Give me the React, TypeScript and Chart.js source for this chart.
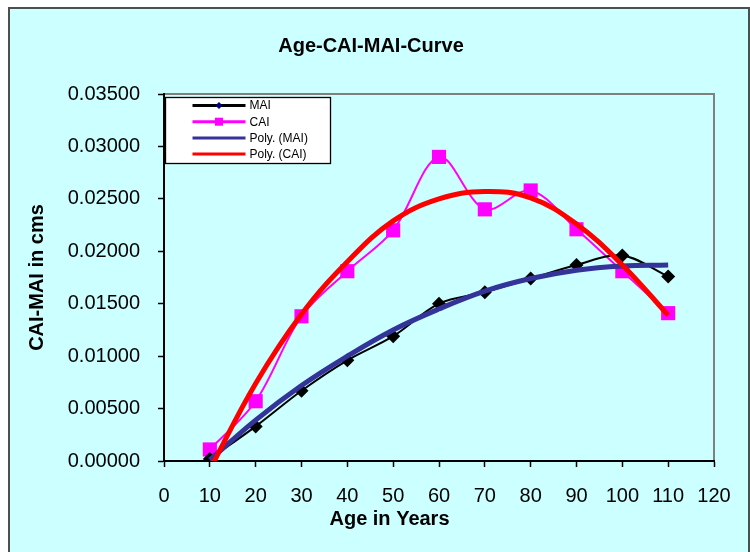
import React, { useEffect, useRef } from 'react';
import { Chart, registerables } from 'chart.js';

Chart.register(...registerables);

// ---- data ----
const YEARS = [10, 20, 30, 40, 50, 60, 70, 80, 90, 100, 110];
const MAI = [0.0002, 0.0033, 0.0067, 0.0096, 0.0119, 0.0150, 0.0161, 0.0174, 0.0187, 0.0196, 0.0176];
const CAI = [0.0011, 0.0057, 0.0138, 0.0181, 0.0220, 0.0290, 0.0240, 0.0258, 0.0221, 0.0181, 0.0141];
const POLY_MAI = [0.0001, 0.0039, 0.0072, 0.0100, 0.0125, 0.0145, 0.0162, 0.0174, 0.0182, 0.0186, 0.0187];
const POLY_CAI = [-0.0008, 0.0074, 0.0140, 0.0190, 0.0229, 0.0250, 0.0257, 0.0251, 0.0226, 0.0187, 0.0139];

const X_MIN = 0;
const X_MAX = 120;
const X_STEP = 10;
const Y_MIN = 0;
const Y_MAX = 0.035;
const Y_STEP = 0.005;
const Y_DECIMALS = 5;

const TITLE = 'Age-CAI-MAI-Curve';
const X_TITLE = 'Age in Years';
const Y_TITLE = 'CAI-MAI in cms';
const LEGEND_ORDER = ['MAI', 'CAI', 'Poly. (MAI)', 'Poly. (CAI)'];

const FONT = "'Liberation Sans', Arial, sans-serif";
const BG = '#CCFFFF';

const pts = (ys: number[]) => YEARS.map((x, i) => ({ x, y: ys[i] }));

const decorPlugin = {
  id: 'decor',
  beforeDraw(chart: any) {
    const { ctx, width, height, chartArea: ca } = chart;
    ctx.save();
    ctx.fillStyle = '#ffffff';
    ctx.fillRect(0, 0, width, height);
    ctx.fillStyle = BG;
    ctx.fillRect(9, 8, 740, height);
    ctx.strokeStyle = '#4a4f4f';
    ctx.lineWidth = 2;
    ctx.strokeRect(9, 8, 740, height + 20);
    // plot border (top/right)
    ctx.strokeStyle = '#808080';
    ctx.lineWidth = 2;
    ctx.beginPath();
    ctx.moveTo(ca.left, ca.top);
    ctx.lineTo(ca.right, ca.top);
    ctx.lineTo(ca.right, ca.bottom);
    ctx.stroke();
    // titles
    ctx.fillStyle = '#000';
    ctx.textAlign = 'center';
    ctx.textBaseline = 'alphabetic';
    ctx.font = `bold 20px ${FONT}`;
    ctx.fillText(TITLE, 371, 52);
    ctx.fillText(X_TITLE, ca.left + ca.width * 0.41, 525);
    ctx.save();
    ctx.translate(43, (ca.top + ca.bottom) / 2);
    ctx.rotate(-Math.PI / 2);
    ctx.fillText(Y_TITLE, 0, 0);
    ctx.restore();
    ctx.restore();
  },
  afterDraw(chart: any) {
    const { ctx, chartArea: ca } = chart;
    const bx = ca.left + 1.5;
    const by = ca.top + 3.5;
    const bw = 165;
    const bh = 66;
    ctx.save();
    ctx.fillStyle = '#ffffff';
    ctx.fillRect(bx, by, bw, bh);
    ctx.strokeStyle = '#000';
    ctx.lineWidth = 1.3;
    ctx.strokeRect(bx, by, bw, bh);
    ctx.font = `12px ${FONT}`;
    ctx.textAlign = 'left';
    ctx.textBaseline = 'middle';
    LEGEND_ORDER.forEach((label, i) => {
      const ds = chart.data.datasets.find((d: any) => d.label === label);
      if (!ds) return;
      const y = by + 8 + i * 16.2;
      const x0 = bx + 27;
      const x1 = bx + 80;
      ctx.strokeStyle = ds.borderColor;
      ctx.lineWidth = 3;
      ctx.beginPath();
      ctx.moveTo(x0, y);
      ctx.lineTo(x1, y);
      ctx.stroke();
      const mx = (x0 + x1) / 2;
      if (ds.pointStyle === 'rectRot' && ds.pointRadius > 0) {
        ctx.fillStyle = '#000080';
        ctx.beginPath();
        ctx.moveTo(mx, y - 3.5);
        ctx.lineTo(mx + 3.5, y);
        ctx.lineTo(mx, y + 3.5);
        ctx.lineTo(mx - 3.5, y);
        ctx.closePath();
        ctx.fill();
      } else if (ds.pointStyle === 'rect' && ds.pointRadius > 0) {
        ctx.fillStyle = ds.pointBackgroundColor;
        ctx.fillRect(mx - 4, y - 4, 8, 8);
      }
      ctx.fillStyle = '#000';
      ctx.fillText(label, x1 + 4, y + 0.5);
    });
    ctx.restore();
  },
};

export default function App() {
  const ref = useRef<HTMLCanvasElement | null>(null);

  useEffect(() => {
    if (!ref.current) return;
    const chart = new Chart(ref.current, {
      type: 'line',
      data: {
        datasets: [
          {
            label: 'Poly. (CAI)',
            data: pts(POLY_CAI),
            borderColor: '#FF0000',
            backgroundColor: '#FF0000',
            borderWidth: 5,
            pointRadius: 0,
            tension: 0.4,
            fill: false,
            clip: { left: 5, top: 5, right: 5, bottom: 0 },
          } as any,
          {
            label: 'Poly. (MAI)',
            data: pts(POLY_MAI),
            borderColor: '#333399',
            backgroundColor: '#333399',
            borderWidth: 5,
            pointRadius: 0,
            tension: 0.4,
            fill: false,
            clip: { left: 5, top: 5, right: 5, bottom: 0 },
          } as any,
          {
            label: 'MAI',
            data: pts(MAI),
            borderColor: '#000000',
            backgroundColor: '#000000',
            borderWidth: 2,
            pointStyle: 'rectRot',
            pointRadius: 7,
            pointBackgroundColor: '#000000',
            pointBorderColor: '#000000',
            pointBorderWidth: 0,
            tension: 0.33,
            fill: false,
          } as any,
          {
            label: 'CAI',
            data: pts(CAI),
            borderColor: '#FF00FF',
            backgroundColor: '#FF00FF',
            borderWidth: 2,
            pointStyle: 'rect',
            pointRadius: 10,
            pointBackgroundColor: '#FF00FF',
            pointBorderColor: '#FF00FF',
            pointBorderWidth: 0,
            tension: 0.33,
            fill: false,
          } as any,
        ],
      },
      options: {
        responsive: false,
        animation: false,
        devicePixelRatio: 1,
        layout: { padding: { left: 0, top: 94, right: 36, bottom: 0 } },
        plugins: {
          legend: { display: false },
          title: { display: false },
          tooltip: { enabled: false },
        },
        scales: {
          x: {
            type: 'linear',
            min: X_MIN,
            max: X_MAX,
            afterFit: (s: any) => { s.height = 91; },
            ticks: {
              stepSize: X_STEP,
              color: '#000',
              padding: 17,
              maxRotation: 0,
              autoSkip: false,
              font: { family: FONT, size: 20 },
              callback: (v: any) => String(v),
            },
            grid: { drawOnChartArea: false, drawTicks: true, tickLength: 6, color: '#000', tickWidth: 1.5 },
            border: { color: '#000', width: 2 },
          },
          y: {
            type: 'linear',
            min: Y_MIN,
            max: Y_MAX,
            afterFit: (s: any) => { s.width = 164; },
            ticks: {
              stepSize: Y_STEP,
              color: '#000',
              padding: 18,
              autoSkip: false,
              font: { family: FONT, size: 20 },
              callback: (v: any) => Number(v).toFixed(Y_DECIMALS),
            },
            grid: { drawOnChartArea: false, drawTicks: true, tickLength: 6, color: '#000', tickWidth: 1.5 },
            border: { color: '#000', width: 2 },
          },
        },
      },
      plugins: [decorPlugin],
    } as any);
    return () => chart.destroy();
  }, []);

  return (
    <div style={{ position: 'fixed', left: 0, top: 0, width: 750, height: 552 }}>
      <canvas ref={ref} width={750} height={552} style={{ display: 'block', width: 750, height: 552 }} />
    </div>
  );
}
